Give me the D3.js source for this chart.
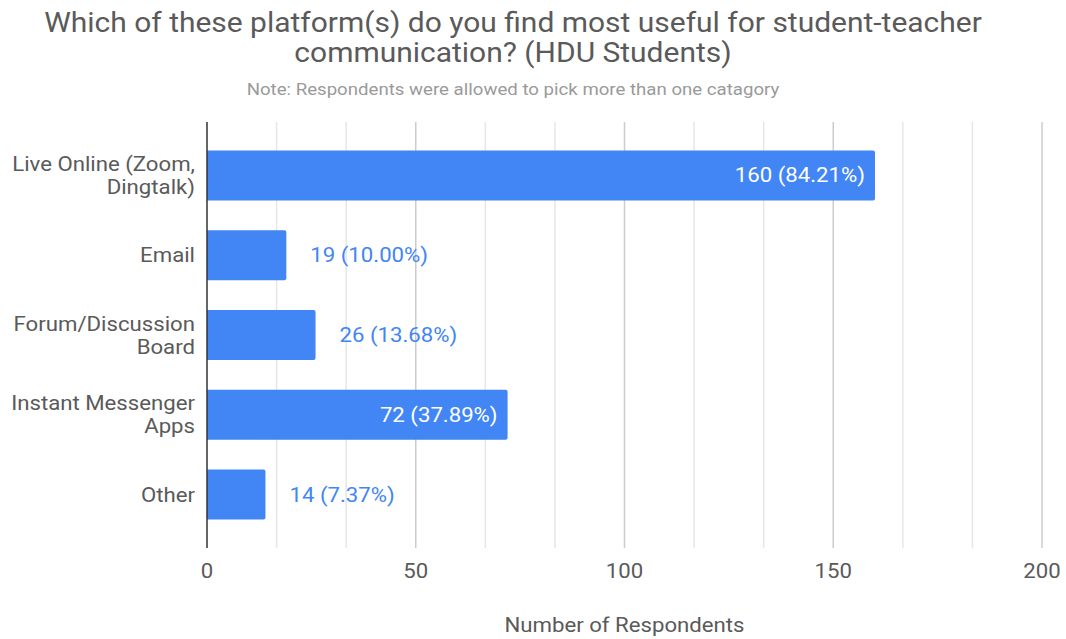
<!DOCTYPE html>
<html><head><meta charset="utf-8">
<script src="https://cdn.jsdelivr.net/npm/d3@7"></script>
<style>body{margin:0;background:#fff}text{font-family:Roboto,sans-serif}</style>
</head><body>
<svg id="c" width="1066" height="639"></svg>
<script>
const categories = [["Live Online (Zoom,","Dingtalk)"],["Email"],["Forum/Discussion","Board"],["Instant Messenger","Apps"],["Other"]];
const values = [160, 19, 26, 72, 14];
const percents = ["84.21%","10.00%","13.68%","37.89%","7.37%"];
const ticks = [0, 50, 100, 150, 200];
const titleLines = ["Which of these platform(s) do you find most useful for student-teacher","communication? (HDU Students)"];
const subtitle = "Note: Respondents were allowed to pick more than one catagory";
const xTitle = "Number of Respondents";

const svg = d3.select("#c");
const L = 207, R = 1042, T = 122, B = 548;
const SX = 1.11;
const x = d3.scaleLinear().domain([0, 200]).range([L, R]);
const y = d3.scaleBand().domain(d3.range(values.length)).range([T, B]).paddingInner(0.373).paddingOuter(0.357);
const blue = "#4285F4";

function txt(px, py, s, size, fill, anchor){
  return svg.append("text").attr("transform",`translate(${px},${py}) scale(${SX},1)`)
    .attr("text-anchor",anchor).attr("font-size",size).attr("fill",fill).text(s);
}

// title
titleLines.forEach((d,i)=> txt(513, 32+i*30, d, 27, "#5a5a5a", "middle"));
txt(513, 95, subtitle, 16.8, "#9a9a9a", "middle");

// gridlines
const grid = d3.range(1, 13).map(i => i*200/12);
svg.selectAll(".g").data(grid).join("line")
  .attr("x1", d=>x(d)).attr("x2", d=>x(d)).attr("y1", T).attr("y2", B)
  .attr("stroke", (d,i)=> (i+1)%3===0 ? "#ccc" : "#e6e6e6").attr("stroke-width",1.5);

// bars
svg.selectAll(".b").data(values).join("path")
  .attr("fill", blue)
  .attr("d", (d,i)=>{
    const x0=x(0), x1=x(d), y0=y(i), h=y.bandwidth(), r=2;
    return `M${x0},${y0}H${x1-r}Q${x1},${y0} ${x1},${y0+r}V${y0+h-r}Q${x1},${y0+h} ${x1-r},${y0+h}H${x0}Z`;
  });

// axis line
svg.append("line").attr("x1",x(0)).attr("x2",x(0)).attr("y1",T).attr("y2",B).attr("stroke","#333").attr("stroke-width",1.5);

// value labels
values.forEach((d,i)=>{
  const inside = d > 50;
  txt(inside ? x(d)-10 : x(d)+24, y(i)+y.bandwidth()/2+7, `${d} (${percents[i]})`, 20,
      inside ? "#fff" : blue, inside ? "end" : "start");
});

// category labels
categories.forEach((lines,i)=>{
  const cy = y(i)+y.bandwidth()/2;
  const n = lines.length;
  lines.forEach((s,j)=> txt(195, cy + 7 + (j-(n-1)/2)*23, s, 20, "#5a5a5a", "end"));
});

// tick labels
ticks.forEach(d=> txt(x(d), 578, String(d), 20, "#5a5a5a", "middle"));

txt((L+R)/2, 632, xTitle, 20, "#5a5a5a", "middle");
</script>
</body></html>
